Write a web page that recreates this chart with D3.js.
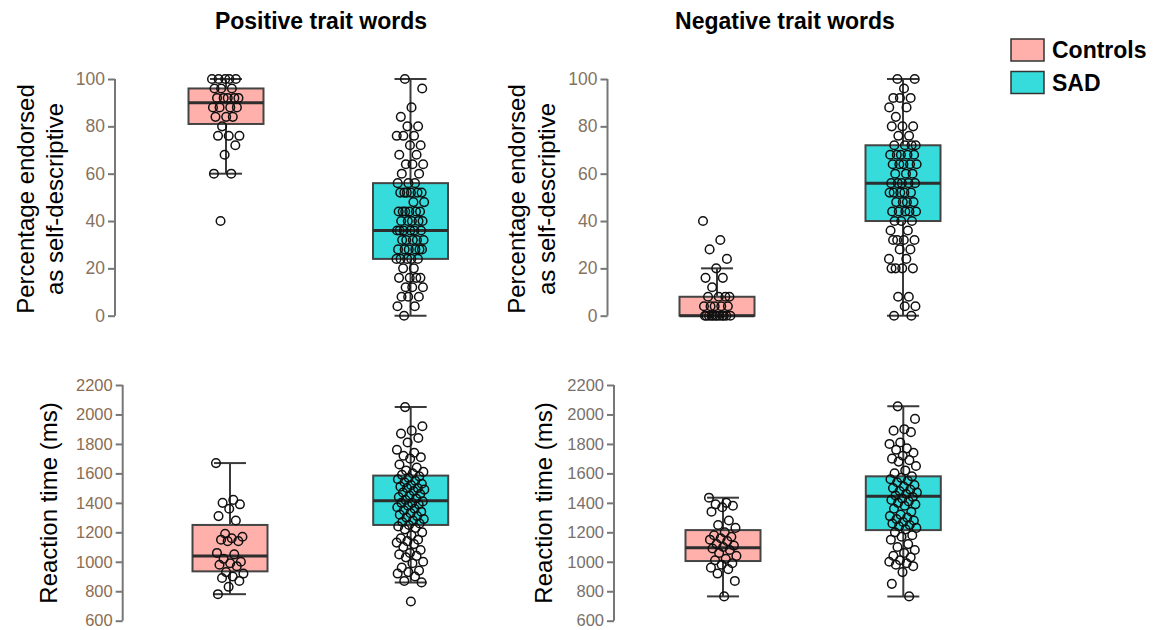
<!DOCTYPE html>
<html>
<head>
<meta charset="utf-8">
<script src="https://cdn.jsdelivr.net/npm/d3@7"></script>
<style>
  body { margin: 0; background: #fff; }
  svg { display: block; font-family: "Liberation Sans", Arial, sans-serif; }
</style>
</head>
<body>
<div id="chart"></div>
<script>
// groups
const groups = ['Controls', 'SAD'];
const groupColors = ['#ffb0aa', '#36dcdc'];

// percentage endorsed, positive words
const posPctControls = [100,100,100,100,100,96,96,96,92,92,92,92,92,88,88,88,88,84,84,84,80,76,76,76,72,68,60,60,40];
const posPctSAD = [100,96,88,84,80,80,76,76,76,72,72,68,68,64,64,64,60,60,56,56,56,52,52,52,52,52,52,48,48,
  44,44,44,44,44,44,40,40,40,40,40,36,36,36,36,36,36,32,32,32,32,32,28,28,28,28,28,28,24,24,24,24,24,
  20,20,16,16,16,16,12,12,12,8,8,8,4,4,0];
// percentage endorsed, negative words
const negPctControls = [40,32,28,24,20,16,16,12,8,8,8,8,4,4,4,4,4,0,0,0,0,0,0,0,0,0,0,0,0];
const negPctSAD = [100,100,96,92,92,92,88,88,84,80,80,80,76,76,72,72,72,72,68,68,68,68,68,64,64,64,64,64,
  60,60,60,56,56,56,56,56,52,52,52,52,52,48,48,48,48,44,44,44,44,44,40,40,40,36,36,32,32,32,32,28,28,
  24,24,20,20,20,20,8,8,4,4,0,0];
// reaction time (ms), positive words
const posRtControls = [1670,1420,1400,1390,1360,1310,1280,1190,1170,1160,1150,1140,1140,1060,1050,1020,1000,
  990,980,970,930,920,900,890,870,830,780];
const posRtSAD = [2050,1920,1890,1870,1840,1810,1760,1740,1720,1710,1700,1660,1640,1620,1610,1600,1590,1580,
  1570,1560,1550,1540,1530,1520,1510,1500,1500,1490,1480,1470,1460,1450,1440,1430,1420,1410,1400,1400,1390,
  1380,1370,1360,1350,1340,1330,1320,1310,1300,1290,1280,1270,1260,1250,1240,1230,1220,1200,1180,1160,1150,
  1140,1130,1120,1100,1080,1060,1050,1040,1030,1000,990,960,940,930,920,900,870,860,730];
// reaction time (ms), negative words
const negRtControls = [1435,1400,1390,1380,1370,1340,1280,1250,1230,1200,1180,1170,1160,1150,1140,1120,1110,
  1100,1090,1080,1060,1040,1020,1010,990,980,960,950,920,870,765];
const negRtSAD = [2055,1970,1900,1890,1880,1810,1800,1770,1760,1740,1720,1700,1690,1680,1650,1620,1600,1580,
  1570,1560,1550,1540,1520,1510,1500,1490,1480,1470,1460,1450,1440,1430,1420,1410,1400,1390,1380,1360,1340,
  1320,1310,1300,1290,1280,1270,1260,1250,1240,1230,1220,1200,1180,1170,1150,1120,1100,1080,1060,1040,1030,
  1010,1000,990,980,970,930,850,765];

// box stats: [whiskerLow, q1, median, q3, whiskerHigh]
const posPctStats = [[60, 81, 90, 96, 100], [0, 24, 36, 56, 100]];
const negPctStats = [[0, 0, 0, 8, 20], [0, 40, 56, 72, 100]];
const posRtStats = [[780, 935, 1040, 1250, 1670], [860, 1250, 1415, 1585, 2050]];
const negRtStats = [[765, 1005, 1095, 1215, 1435], [765, 1215, 1445, 1580, 2055]];

const pctTicks = [0, 20, 40, 60, 80, 100];
const rtTicks = [600, 800, 1000, 1200, 1400, 1600, 1800, 2000, 2200];

const titles = ['Positive trait words', 'Negative trait words'];

const width = 1153, height = 630;
const svg = d3.select('#chart').append('svg')
  .attr('width', width).attr('height', height);

const panels = [
  { values: [posPctControls, posPctSAD], stats: posPctStats, ticks: pctTicks, domain: [0, 100], yRange: [315.7, 79],
    axisX: 115, centers: [226, 410.5], labelLines: ['Percentage endorsed', 'as self-descriptive'], labelX: [25, 54], labelY: 199,
    tickSize: 17.5, tickColor: '#85725f' },
  { values: [negPctControls, negPctSAD], stats: negPctStats, ticks: pctTicks, domain: [0, 100], yRange: [315.7, 79],
    axisX: 607.5, centers: [717, 903], labelLines: ['Percentage endorsed', 'as self-descriptive'], labelX: [516, 546], labelY: 199,
    tickSize: 17.5, tickColor: '#85725f' },
  { values: [posRtControls, posRtSAD], stats: posRtStats, ticks: rtTicks, domain: [600, 2200], yRange: [620.7, 385],
    axisX: 122.7, centers: [230, 410.7], labelLines: ['Reaction time (ms)'], labelX: [48], labelY: 503,
    tickSize: 16.5, tickColor: '#8a6d52' },
  { values: [negRtControls, negRtSAD], stats: negRtStats, ticks: rtTicks, domain: [600, 2200], yRange: [620.7, 385],
    axisX: 614, centers: [723, 903.3], labelLines: ['Reaction time (ms)'], labelX: [543], labelY: 503,
    tickSize: 16.5, tickColor: '#77706a' }
];

const boxW = 75, capW = 32, jitterW = 28;

panels.forEach(p => {
  const y = d3.scaleLinear().domain(p.domain).range(p.yRange);
  const x = d3.scaleOrdinal().domain(groups).range(p.centers);
  const g = svg.append('g');

  // axis
  const axis = g.append('g')
    .attr('transform', `translate(${p.axisX},0)`)
    .call(d3.axisLeft(y).tickValues(p.ticks).tickFormat(d3.format('d')).tickSize(7).tickPadding(3));
  axis.select('.domain').attr('stroke', '#777').attr('stroke-width', 2)
    .attr('d', `M0,${y(p.ticks[0])}V${y(p.ticks[p.ticks.length - 1])}`);
  axis.selectAll('.tick line').attr('stroke', '#777').attr('stroke-width', 2);
  axis.selectAll('.tick text')
    .attr('fill', p.tickColor)
    .style('font-size', p.tickSize + 'px')
    .style('font-family', '"Liberation Sans", Arial, sans-serif');

  // y label
  p.labelLines.forEach((line, i) => {
    g.append('text')
      .attr('transform', `translate(${p.labelX[i]},${p.labelY}) rotate(-90)`)
      .attr('text-anchor', 'middle')
      .attr('dominant-baseline', 'central')
      .style('font-size', '24px')
      .attr('fill', '#000')
      .text(line);
  });

  groups.forEach((grp, gi) => {
    const cx = x(grp);
    const [lo, q1, med, q3, hi] = p.stats[gi];

    // whisker
    g.append('line')
      .attr('x1', cx).attr('x2', cx).attr('y1', y(lo)).attr('y2', y(hi))
      .attr('stroke', '#3a3a3a').attr('stroke-width', 2);
    [lo, hi].forEach(v => {
      g.append('line')
        .attr('x1', cx - capW / 2).attr('x2', cx + capW / 2)
        .attr('y1', y(v)).attr('y2', y(v))
        .attr('stroke', '#3a3a3a').attr('stroke-width', 2);
    });

    // box
    g.append('rect')
      .attr('x', cx - boxW / 2).attr('width', boxW)
      .attr('y', y(q3)).attr('height', Math.max(0, y(q1) - y(q3)))
      .attr('fill', groupColors[gi])
      .attr('stroke', '#444').attr('stroke-width', 2);
    g.append('line')
      .attr('x1', cx - boxW / 2).attr('x2', cx + boxW / 2)
      .attr('y1', y(med)).attr('y2', y(med))
      .attr('stroke', '#2e2e2e').attr('stroke-width', 3);

    // jittered points (deterministic spread)
    g.append('g').selectAll('circle')
      .data(p.values[gi])
      .join('circle')
      .attr('cx', (d, i) => cx + (((i * 0.618034 + gi * 0.3) % 1) - 0.5) * jitterW)
      .attr('cy', d => y(d))
      .attr('r', 4.3)
      .attr('fill', 'none')
      .attr('stroke', '#111')
      .attr('stroke-width', 1.5);
  });
});

// titles
[321, 785].forEach((tx, i) => {
  svg.append('text')
    .attr('x', tx).attr('y', 29)
    .attr('text-anchor', 'middle')
    .style('font-size', '23px').style('font-weight', 'bold')
    .text(titles[i]);
});

// legend
const legend = svg.append('g').attr('transform', 'translate(1011,39)');
groups.forEach((grp, i) => {
  const row = legend.append('g').attr('transform', `translate(0,${i * 32.5})`);
  row.append('rect')
    .attr('width', 33).attr('height', 22)
    .attr('fill', groupColors[i])
    .attr('stroke', '#333').attr('stroke-width', 1.5);
  row.append('text')
    .attr('x', 41).attr('y', 11)
    .attr('dominant-baseline', 'central')
    .style('font-size', '23px').style('font-weight', 'bold')
    .text(grp);
});
</script>
</body>
</html>
